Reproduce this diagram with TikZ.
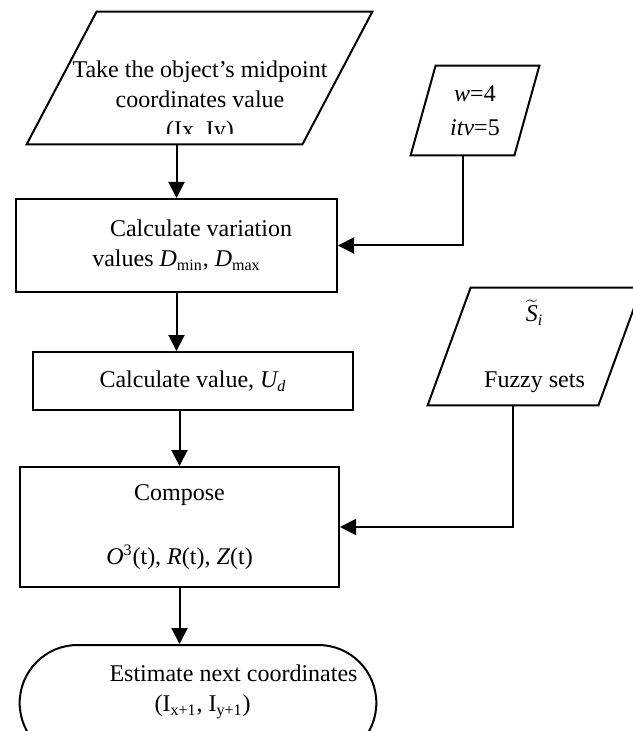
\documentclass[tikz,border=0pt]{standalone}
\usepackage{fontspec}
\setmainfont{Liberation Serif}
\usetikzlibrary{shapes.misc, arrows.meta, calc}

\tikzset{
  procbox/.style={draw, line width=1pt, align=center},
  iobox/.style={rectangle, inner sep=0pt, align=center},
  endbox/.style={draw, line width=1pt, rounded rectangle},
  flow/.style={-{Triangle[length=8pt, width=8pt]}, line width=1pt},
}

% slanted outline round an input node: #1 = node, #2 = slant
\newcommand{\ioframe}[2]{%
  \draw[line width=1pt] (#1.south west) -- ($(#1.north west)+(#2,0)$)
    -- (#1.north east) -- ($(#1.south east)-(#2,0)$) -- cycle;}

\begin{document}
\begin{tikzpicture}[x=0.5pt, y=-0.5pt, font=\fontsize{12}{15}\selectfont]
  \useasboundingbox (0,0) rectangle (632,731);

  % Inputs
  \node[iobox, minimum width=172.5pt, minimum height=66pt] (midpt) at (199.5,78) {};
  \ioframe{midpt}{70}
  \begin{scope}
    \clip (0,0) rectangle (632,134);
    \node[align=center, inner sep=0pt] (midpttxt) at (200,102) {Take the object's midpoint\\coordinates value\\(Ix, Iy)};
  \end{scope}

  \node[iobox, minimum width=64pt, minimum height=44.5pt] (winp) at (475,110.5) {\textit{w}=4\\[2pt]\textit{itv}=5};
  \ioframe{winp}{25}
  \coordinate (winpout) at ($(winp.south)-(12.5,0)$);

  \node[iobox, minimum width=106.5pt, minimum height=58.5pt] (fuzzy) at (534.5,346.5) {$\widetilde{\textit{S}}$\textsubscript{\textit{i}}\\[18pt]Fuzzy sets};
  \ioframe{fuzzy}{43}
  \coordinate (fuzzyout) at ($(fuzzy.south)-(21.5,0)$);

  % Processing steps
  \node[procbox, minimum width=160.5pt, minimum height=46.5pt] (calcvar) at (176.5,245.5) {\hspace*{24.5pt}Calculate variation\\values \textit{D}\textsubscript{min}, \textit{D}\textsubscript{max}};
  \node[procbox, minimum width=160pt, minimum height=29pt] (calcu) at (193,381) {Calculate value, \textit{U\textsubscript{d}}};
  \node[procbox, minimum width=159.5pt, minimum height=60pt] (compose) at (179.5,527) {Compose\\[17pt]\textit{O}\textsuperscript{3}(t), \textit{R}(t), \textit{Z}(t)};

  % Output
  \node[endbox, minimum width=185pt, minimum height=58pt] (estim) at (198,703) {};
  \node[align=left, inner sep=0pt] (estimtxt) at (233.5,692) {Estimate next coordinates\\\hspace*{22.5pt}(I\textsubscript{x+1}, I\textsubscript{y+1})};

  % Flow
  \draw[flow] (calcvar.north |- midpt.south) -- (calcvar.north);
  \draw[flow] (calcvar.south) -- (calcvar.south |- calcu.north);
  \draw[flow] (compose.north |- calcu.south) -- (compose.north);
  \draw[flow] (compose.south) -- (compose.south |- estim.north);
  \draw[flow] (winpout) |- (calcvar.east);
  \draw[flow] (fuzzyout) |- (compose.east);
\end{tikzpicture}
\end{document}
